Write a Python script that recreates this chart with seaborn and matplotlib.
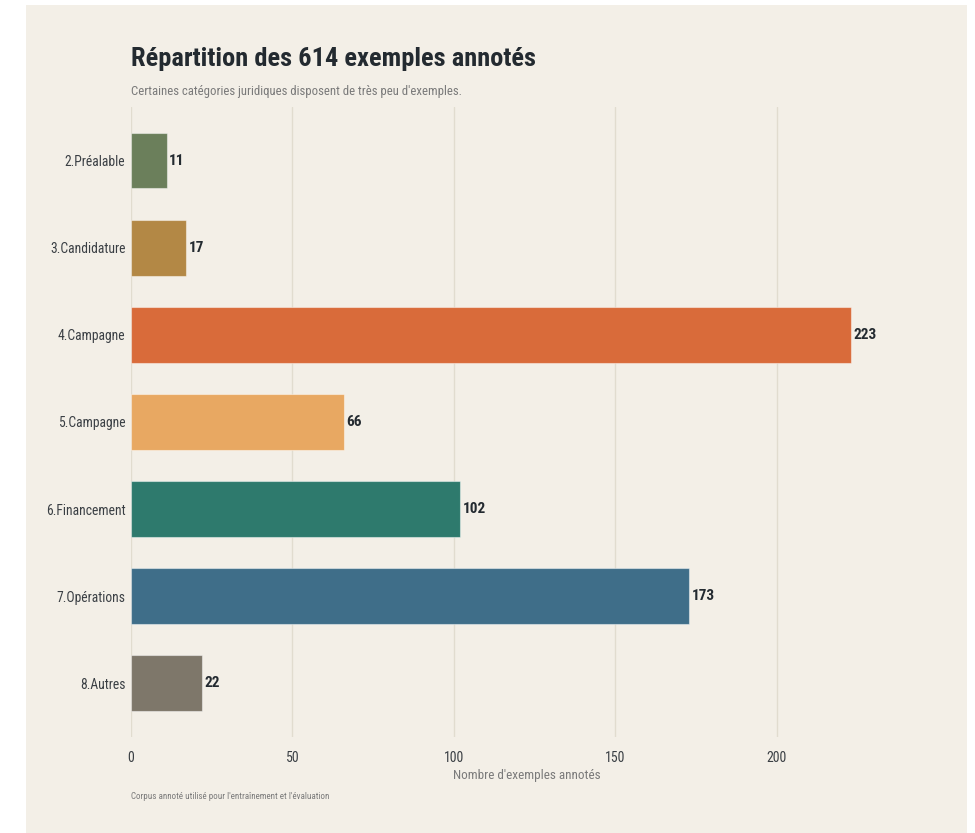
import matplotlib
matplotlib.use("Agg")
import matplotlib.pyplot as plt
import seaborn as sns
import pandas as pd
from matplotlib.patches import Rectangle

categories = ["2.Préalable", "3.Candidature", "4.Campagne", "5.Campagne",
              "6.Financement", "7.Opérations", "8.Autres"]
counts = [11, 17, 223, 66, 102, 173, 22]
colors = ["#6b7f5b", "#b38845", "#d96b3a", "#e8a862",
          "#2e7a6d", "#3f6e89", "#7e776a"]
xticks = [0, 50, 100, 150, 200]

BG = "#f3efe7"
DARK = "#232a30"
GREY = "#7a7a7a"

df = pd.DataFrame({"categorie": categories, "n": counts})

sns.set_style("white")
plt.rcParams["font.family"] = ["Roboto Condensed", "DejaVu Sans"]

fig = plt.figure(figsize=(9.75, 8.33), dpi=100, facecolor="white")
fig.patches.append(Rectangle((0.0267, 0.0), 0.9653, 0.994, transform=fig.transFigure,
                             facecolor=BG, edgecolor="none", zorder=-10))
ax = fig.add_axes([0.1344, 0.115, 0.812, 0.757])
ax.set_facecolor(BG)

sns.barplot(data=df, y="categorie", x="n", hue="categorie", palette=colors,
            saturation=1, legend=False, width=0.64,
            edgecolor=(1, 1, 1, 0.45), linewidth=0.8, ax=ax, zorder=3)

# valeurs au bout des barres
for i, v in enumerate(counts):
    ax.text(v + 0.8, i, str(v), va="center", ha="left", fontsize=11,
            fontweight="bold", color=DARK)

ax.set_xlim(0, 245.3)
ax.set_ylim(6.62, -0.62)
ax.set_xticks(xticks)
ax.grid(axis="x", color="#e1dccf", linewidth=1, zorder=0)
ax.grid(axis="y", visible=False)
for s in ax.spines.values():
    s.set_visible(False)
ax.tick_params(axis="y", length=0, labelsize=9.8, colors="#3a3f44", pad=4)
ax.tick_params(axis="x", length=0, labelsize=10, colors="#3a3f44", pad=10)
ax.set_ylabel("")
ax.set_xlabel("Nombre d'exemples annotés", fontsize=9.5, color=GREY, labelpad=3)

fig.text(0.1344, 0.921, "Répartition des 614 exemples annotés", fontsize=19,
         fontweight="bold", color=DARK, ha="left", va="baseline")
fig.text(0.1344, 0.886, "Certaines catégories juridiques disposent de très peu d'exemples.",
         fontsize=9.2, color=GREY, ha="left", va="baseline")
fig.text(0.1344, 0.041, "Corpus annoté utilisé pour l'entraînement et l'évaluation",
         fontsize=6.5, color=GREY, ha="left", va="baseline")

fig.savefig("out.png", dpi=100, facecolor="white")
